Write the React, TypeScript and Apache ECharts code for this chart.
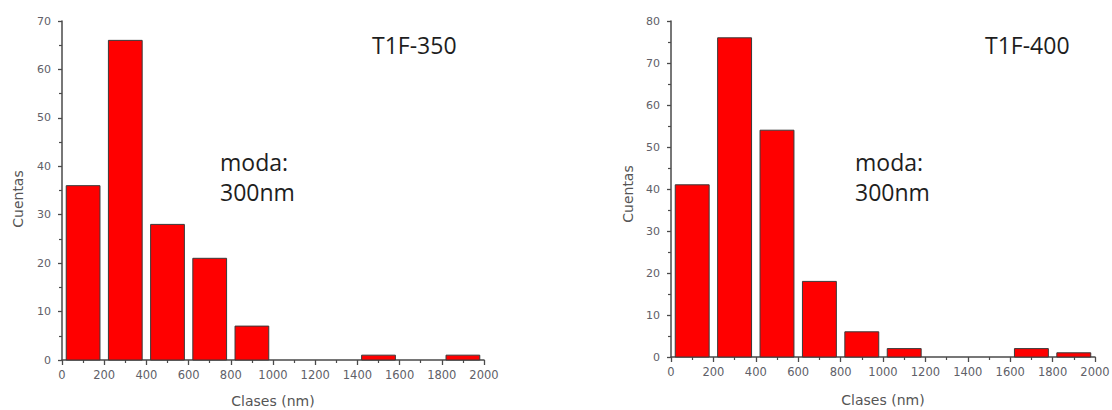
import React, { useEffect, useRef } from "react";
import * as echarts from "echarts";

// Histogram bins (nm) and counts per sample
const binStarts = [0, 200, 400, 600, 800, 1000, 1200, 1400, 1600, 1800];
const binWidth = 200;
const countsT350 = [36, 66, 28, 21, 7, 0, 0, 1, 0, 1];
const countsT400 = [41, 76, 54, 18, 6, 2, 0, 0, 2, 1];

const xTicks = { min: 0, max: 2000, interval: 200 };
const yMaxT350 = 70;
const yMaxT400 = 80;
const yInterval = 10;

const panelTitles = ["T1F-350", "T1F-400"];
const modeLines = ["moda:", "300nm"];
const xTitle = "Clases (nm)";
const yTitle = "Cuentas";

const axisColor = "#4a4a4a";
const labelColor = "#606068";
const sansFont = "DejaVu Sans";

function toBins(counts: number[]) {
  return binStarts.map((s, i) => [s, s + binWidth, counts[i]]);
}

function xAxisFor(gridIndex: number) {
  return {
    type: "value",
    gridIndex,
    min: xTicks.min,
    max: xTicks.max,
    interval: xTicks.interval,
    axisLine: { show: true, lineStyle: { color: axisColor, width: 1.5 } },
    axisTick: { show: true, length: 5, lineStyle: { color: axisColor, width: 1.3 } },
    minorTick: { show: true, splitNumber: 2, length: 3, lineStyle: { color: axisColor, width: 1.2 } },
    axisLabel: {
      color: labelColor,
      fontSize: 11.5,
      fontFamily: sansFont,
      margin: 9,
      formatter: (v: number) => String(v),
    },
    splitLine: { show: false },
  };
}

function yAxisFor(gridIndex: number, max: number) {
  return {
    type: "value",
    gridIndex,
    min: 0,
    max,
    interval: yInterval,
    axisLine: { show: true, lineStyle: { color: axisColor, width: 1.5 } },
    axisTick: { show: true, length: 4, lineStyle: { color: axisColor, width: 1.3 } },
    minorTick: { show: true, splitNumber: 2, length: 3, lineStyle: { color: axisColor, width: 1.2 } },
    axisLabel: {
      color: labelColor,
      fontSize: 11,
      fontFamily: sansFont,
      margin: 11,
      formatter: (v: number) => String(v),
    },
    splitLine: { show: false },
  };
}

// Each bar spans its bin, inset 20 nm on both sides; empty bins draw nothing
const renderBin = (_params: any, api: any) => {
  if (!api.value(2)) return { type: "group", children: [] };
  const inset = 20;
  const topLeft = api.coord([api.value(0) + inset, api.value(2)]);
  const bottomRight = api.coord([api.value(1) - inset, 0]);
  return {
    type: "rect",
    shape: {
      x: topLeft[0],
      y: topLeft[1],
      width: bottomRight[0] - topLeft[0],
      height: bottomRight[1] - topLeft[1],
    },
    style: { fill: "#ff0000", stroke: "#3a3a3a", lineWidth: 1 },
  };
};

function histSeries(index: number, counts: number[]) {
  return {
    type: "custom",
    xAxisIndex: index,
    yAxisIndex: index,
    renderItem: renderBin,
    encode: { x: [0, 1], y: 2 },
    data: toBins(counts),
  };
}

function noteText(text: string, x: number, baseline: number) {
  return {
    type: "text",
    x,
    y: baseline - 8,
    style: {
      text,
      fill: "#1e1e1e",
      font: '23px "Open Sans"',
      align: "left",
      verticalAlign: "middle",
    },
  };
}

function axisTitle(text: string, x: number, y: number, rotate: boolean) {
  return {
    type: "text",
    x,
    y,
    rotation: rotate ? Math.PI / 2 : 0,
    style: {
      text,
      fill: "#555",
      font: `14px "${sansFont}"`,
      align: "center",
      verticalAlign: "middle",
    },
  };
}

export default function App() {
  const ref = useRef<HTMLDivElement>(null);

  useEffect(() => {
    if (!ref.current) return;
    const chart = echarts.init(ref.current, null, { renderer: "svg" });
    chart.setOption({
      animation: false,
      backgroundColor: "#ffffff",
      grid: [
        { left: 62, top: 21, right: 628, bottom: 50, outerBoundsMode: "none" },
        { left: 671, top: 21, right: 17, bottom: 53, outerBoundsMode: "none" },
      ],
      xAxis: [xAxisFor(0), xAxisFor(1)],
      yAxis: [yAxisFor(0, yMaxT350), yAxisFor(1, yMaxT400)],
      series: [histSeries(0, countsT350), histSeries(1, countsT400)],
      graphic: [
        axisTitle(yTitle, 18, 199, true),
        axisTitle(xTitle, 273, 401, false),
        axisTitle(yTitle, 628, 194, true),
        axisTitle(xTitle, 883, 400, false),
        noteText(panelTitles[0], 372, 53),
        noteText(modeLines[0], 220, 170),
        noteText(modeLines[1], 220, 200),
        noteText(panelTitles[1], 985, 53),
        noteText(modeLines[0], 855, 170),
        noteText(modeLines[1], 855, 200),
      ],
    });
    return () => chart.dispose();
  }, []);

  return (
    <div
      ref={ref}
      style={{ position: "fixed", left: 0, top: 0, width: 1112, height: 410, background: "#fff" }}
    />
  );
}
